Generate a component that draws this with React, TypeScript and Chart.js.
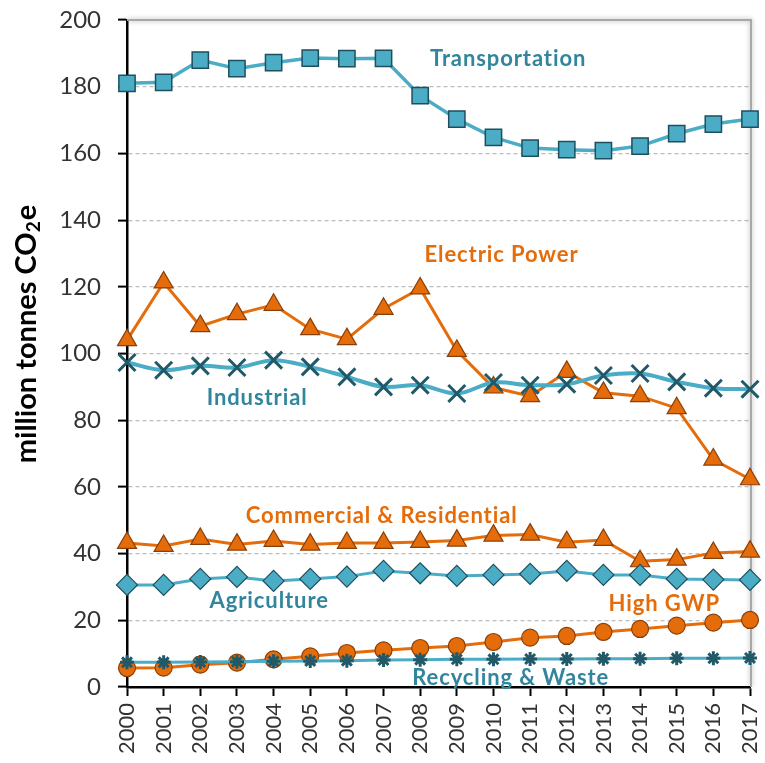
import React, { useEffect, useRef } from "react";
import { Chart, registerables } from "chart.js";
Chart.register(...registerables);

const years = ["2000","2001","2002","2003","2004","2005","2006","2007","2008","2009","2010","2011","2012","2013","2014","2015","2016","2017"];
const transportation = [181, 181.3, 188, 185.4, 187.2, 188.6, 188.4, 188.5, 177.3, 170.3, 164.8, 161.6, 161.1, 160.8, 162.2, 165.9, 168.8, 170.3];
const electricPower = [104, 121.3, 108.2, 111.8, 114.6, 107.3, 104.3, 113.4, 119.5, 100.8, 89.8, 87.2, 94.5, 88.2, 87.2, 83.6, 68.2, 62.3];
const industrial = [97.3, 95, 96.3, 95.8, 98, 96, 93, 90, 90.5, 88, 91.3, 90.5, 90.8, 93.4, 94, 91.5, 89.6, 89.3];
const commercialResidential = [43.2, 42.3, 44.4, 42.7, 43.8, 42.7, 43.2, 43.2, 43.5, 43.9, 45.4, 45.7, 43.4, 44.1, 37.7, 38.2, 40.2, 40.6];
const agriculture = [30.6, 30.6, 32.4, 33, 31.8, 32.4, 33.1, 34.8, 34.1, 33.3, 33.6, 33.9, 34.8, 33.6, 33.6, 32.4, 32.2, 32.1];
const highGWP = [5.7, 5.8, 6.7, 7.3, 8.3, 9.2, 10.2, 11, 11.7, 12.3, 13.5, 14.8, 15.3, 16.5, 17.4, 18.4, 19.3, 20.1];
const recyclingWaste = [7.4, 7.4, 7.5, 7.6, 7.7, 7.8, 7.9, 8.1, 8.2, 8.3, 8.3, 8.4, 8.4, 8.5, 8.5, 8.6, 8.6, 8.7];
const yTicks = [0, 20, 40, 60, 80, 100, 120, 140, 160, 180, 200];

const seriesLabels = ["Transportation", "Electric Power", "Industrial", "Commercial & Residential", "Agriculture", "High GWP", "Recycling & Waste"];
// label anchor positions in data coordinates (category index, value)
const labelAtX = [10.4, 10.22, 3.55, 6.95, 3.88, 14.66, 10.47];
const labelAtY = [188.3, 129.5, 86.8, 51.2, 25.8, 25.0, 2.8];

const TEAL = "#4BACC6";
const TEAL_DARK = "#1E4F5E";
const TEAL_TEXT = "#31859C";
const X_DARK = "#215968";
const ORANGE = "#E46C0A";
const ORANGE_DARK = "#8A3F08";
const FONT = "Lato, 'Open Sans', sans-serif";

export default function App() {
  const ref = useRef<HTMLCanvasElement | null>(null);
  useEffect(() => {
    document.body.style.margin = "0";
    const canvas = ref.current!;
    const labelColors = [TEAL_TEXT, ORANGE, TEAL_TEXT, ORANGE, TEAL_TEXT, ORANGE, TEAL_TEXT];

    const overlay = {
      id: "overlay",
      beforeDatasetsDraw(chart: any) {
        const { ctx, chartArea } = chart;
        ctx.save();
        ctx.strokeStyle = "#A8A8A8";
        ctx.lineWidth = 2;
        ctx.shadowColor = "rgba(0,0,0,0.35)";
        ctx.shadowBlur = 5;
        ctx.beginPath();
        ctx.moveTo(chartArea.left, chartArea.top);
        ctx.lineTo(chartArea.right + 1, chartArea.top);
        ctx.lineTo(chartArea.right + 1, chartArea.bottom);
        ctx.stroke();
        ctx.restore();
      },
      afterDraw(chart: any) {
        const { ctx } = chart;
        const xs = chart.scales.x;
        const ys = chart.scales.y;
        ctx.save();
        ctx.font = `bold 22px ${FONT}`;
        try { (ctx as any).letterSpacing = "0.9px"; } catch (e) {}
        ctx.textAlign = "center";
        ctx.textBaseline = "middle";
        seriesLabels.forEach((t, i) => {
          ctx.fillStyle = labelColors[i];
          ctx.fillText(t, xs.getPixelForValue(labelAtX[i]), ys.getPixelForValue(labelAtY[i]));
        });
        ctx.restore();

        // y axis title
        ctx.save();
        ctx.translate(27, 334);
        ctx.rotate(-Math.PI / 2);
        ctx.fillStyle = "#000";
        ctx.textBaseline = "middle";
        const big = `bold 29px ${FONT}`;
        const small = `bold 19px ${FONT}`;
        const p1 = "million tonnes CO";
        const p2 = "2";
        const p3 = "e";
        ctx.font = big;
        const w1 = ctx.measureText(p1).width;
        const w3 = ctx.measureText(p3).width;
        ctx.font = small;
        const w2 = ctx.measureText(p2).width + 1;
        let x = -(w1 + w2 + w3) / 2;
        ctx.font = big;
        ctx.textAlign = "left";
        ctx.fillText(p1, x, 0);
        x += w1;
        ctx.font = small;
        ctx.fillText(p2, x, 7);
        x += w2;
        ctx.font = big;
        ctx.fillText(p3, x, 0);
        ctx.restore();
      },
    };

    const chart = new Chart(canvas, {
      type: "line",
      data: {
        labels: years,
        datasets: [
          { label: "Recycling & Waste", data: recyclingWaste, borderColor: TEAL, borderWidth: 3, pointStyle: "star", pointRadius: 7, pointBorderColor: X_DARK, pointBorderWidth: 3, pointBackgroundColor: X_DARK, clip: false },
          { label: "High GWP", data: highGWP, borderColor: ORANGE, borderWidth: 3, pointStyle: "circle", pointRadius: 8.5, pointBackgroundColor: ORANGE, pointBorderColor: ORANGE_DARK, pointBorderWidth: 1.2, clip: false },
          { label: "Agriculture", data: agriculture, borderColor: TEAL, borderWidth: 3, pointStyle: "rectRot", pointRadius: 10.5, pointBackgroundColor: TEAL, pointBorderColor: TEAL_DARK, pointBorderWidth: 1.2, clip: false },
          { label: "Commercial & Residential", data: commercialResidential, borderColor: ORANGE, borderWidth: 3, pointStyle: "triangle", pointRadius: 11, pointBackgroundColor: ORANGE, pointBorderColor: ORANGE_DARK, pointBorderWidth: 1.2, clip: false },
          { label: "Industrial", data: industrial, borderColor: TEAL, borderWidth: 4, tension: 0.35, pointStyle: "crossRot", pointRadius: 12, pointBorderColor: X_DARK, pointBorderWidth: 3, clip: false },
          { label: "Electric Power", data: electricPower, borderColor: ORANGE, borderWidth: 3, pointStyle: "triangle", pointRadius: 11, pointBackgroundColor: ORANGE, pointBorderColor: ORANGE_DARK, pointBorderWidth: 1.2, clip: false },
          { label: "Transportation", data: transportation, borderColor: TEAL, borderWidth: 3.5, pointStyle: "rect", pointRadius: 11.5, pointBackgroundColor: TEAL, pointBorderColor: TEAL_DARK, pointBorderWidth: 1.5, clip: false },
        ],
      },
      options: {
        animation: false,
        responsive: false,
        maintainAspectRatio: false,
        layout: { padding: { left: 0, top: 20, right: 8, bottom: 0 } },
        plugins: { legend: { display: false }, tooltip: { enabled: false } },
        scales: {
          x: {
            type: "category",
            offset: false,
            grid: { drawOnChartArea: false, drawTicks: true, tickLength: 9, tickColor: "#000", tickWidth: 2 },
            border: { color: "#000", width: 2.5 },
            ticks: { color: "#333", font: { family: FONT, size: 22 }, minRotation: 90, maxRotation: 90, autoSkip: false, padding: 7 },
            afterFit(scale: any) { scale.height = 76; scale.paddingLeft = 0; scale.paddingRight = 0; },
          },
          y: {
            min: 0,
            max: 200,
            afterBuildTicks(scale: any) { scale.ticks = yTicks.map((v) => ({ value: v })); },
            grid: { color: "#BDBDBD", lineWidth: 1.2, drawTicks: true, tickLength: 9, tickColor: "#000", tickWidth: 2 },
            border: { color: "#000", width: 2.5, dash: [4, 3] },
            ticks: { color: "#333", font: { family: FONT, size: 24 }, padding: 17 },
            afterFit(scale: any) { scale.width = 127; scale.paddingTop = 0; scale.paddingBottom = 0; },
          },
        },
      } as any,
      plugins: [overlay],
    });
    return () => chart.destroy();
  }, []);
  return (
    <div style={{ width: 765, height: 763, background: "#fff" }}>
      <canvas ref={ref} width={765} height={763} style={{ display: "block" }} />
    </div>
  );
}
